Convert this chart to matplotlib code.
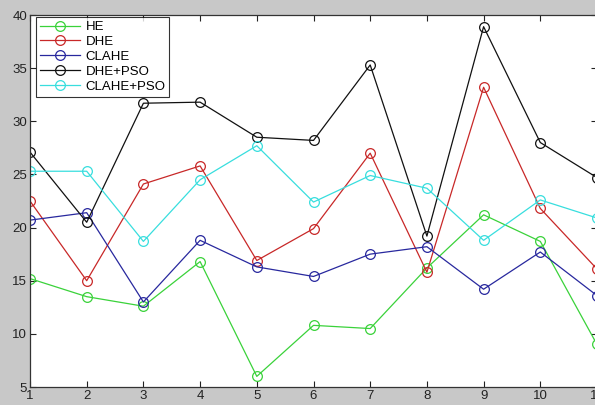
import numpy as np
import matplotlib
matplotlib.use('Agg')
import matplotlib.pyplot as plt

plt.rcParams['font.family'] = ['Liberation Sans', 'DejaVu Sans']

x = [1, 2, 3, 4, 5, 6, 7, 8, 9, 10, 11]

he = [15.2, 13.5, 12.6, 16.8, 6.0, 10.8, 10.5, 16.2, 21.2, 18.7, 9.0]
dhe = [22.5, 15.0, 24.1, 25.8, 16.9, 19.9, 27.0, 15.8, 33.2, 21.8, 16.1]
clahe = [20.7, 21.4, 13.0, 18.8, 16.3, 15.4, 17.5, 18.2, 14.2, 17.7, 13.6]
dhe_pso = [27.1, 20.5, 31.7, 31.8, 28.5, 28.2, 35.3, 19.2, 38.9, 28.0, 24.7]
clahe_pso = [25.3, 25.3, 18.7, 24.5, 27.7, 22.4, 24.9, 23.7, 18.8, 22.6, 20.9]

labels = ['HE', 'DHE', 'CLAHE', 'DHE+PSO', 'CLAHE+PSO']
colors = ['#3ad23a', '#c82828', '#28289e', '#111111', '#38dede']
series = [he, dhe, clahe, dhe_pso, clahe_pso]

fig = plt.figure(figsize=(5.95, 4.05), dpi=100, facecolor='#c8c8c8')
ax = fig.add_axes([30/595, 18/405, 567/595, 372/405])
ax.set_facecolor('white')

for vals, lab, col in zip(series, labels, colors):
    ax.plot(x, vals, color=col, lw=0.9, marker='o', mfc='none', mec=col,
            ms=7, mew=0.9, label=lab)

ax.set_xlim(1, 11)
ax.set_ylim(5, 40)
ax.set_xticks(x)
ax.set_yticks(range(5, 41, 5))
ax.tick_params(direction='in', top=True, right=True, length=4, width=0.8,
               labelsize=9.5, pad=2, colors='#222222')
for s in ax.spines.values():
    s.set_linewidth(0.9)
    s.set_color('#333333')

leg = ax.legend(loc='upper left', bbox_to_anchor=(6/567, 1 - 2/372),
                fontsize=9.5, frameon=True, fancybox=False,
                handlelength=3.0, handletextpad=0.45, borderpad=0.3,
                labelspacing=0.2, borderaxespad=0)
leg.get_frame().set_edgecolor('black')
leg.get_frame().set_linewidth(0.8)

fig.savefig('out.png', dpi=100, facecolor=fig.get_facecolor())
